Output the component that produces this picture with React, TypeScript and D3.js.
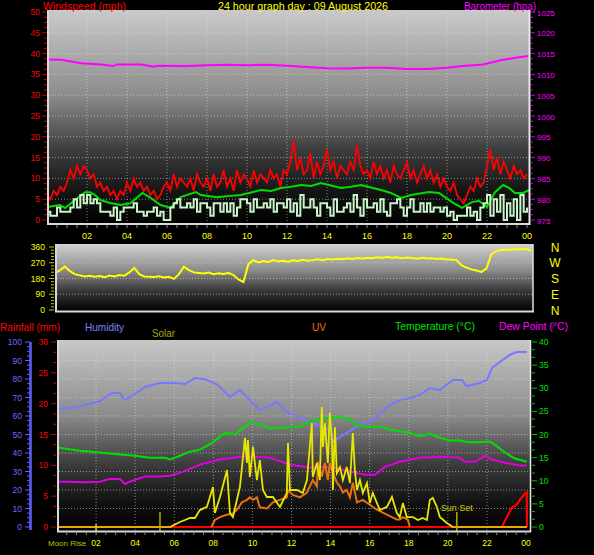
import React from "react";
import * as d3 from "d3";

// ---------- labels / ticks ----------
const hourLabels = ["02", "04", "06", "08", "10", "12", "14", "16", "18", "20", "22", "00"];
const hourLabelHours = [2, 4, 6, 8, 10, 12, 14, 16, 18, 20, 22, 24];
const windTicks = [0, 5, 10, 15, 20, 25, 30, 35, 40, 45, 50];
const baroTicks = [975, 980, 985, 990, 995, 1000, 1005, 1010, 1015, 1020, 1025];
const dirTicks = [0, 90, 180, 270, 360];
const compassLabels = ["N", "W", "S", "E", "N"];
const compassDegrees = [360, 270, 180, 90, 0];
const humidityTicks = [0, 10, 20, 30, 40, 50, 60, 70, 80, 90, 100];
const rainTicks = [0, 5, 10, 15, 20, 25, 30];
const tempTicks = [0, 5, 10, 15, 20, 25, 30, 35, 40];

// ---------- data ----------
// wind gust (mph), 10-minute samples from 00:00
const windGust = [
  6, 5, 7, 6, 8, 7,
  9, 12, 10, 13, 11, 13,
  12, 10, 11, 8, 9, 7,
  8, 6, 7, 5, 7, 6,
  9, 7, 10, 8, 9, 7,
  8, 6, 7, 5, 6, 8,
  9, 7, 11, 8, 10, 9,
  8, 10, 7, 11, 9, 8,
  10, 7, 11, 8, 9, 12,
  8, 10, 7, 12, 9, 11,
  10, 8, 12, 9, 11, 10,
  9, 12, 10, 11, 8, 12,
  11, 14, 19, 12, 15, 11,
  12, 16, 10, 14, 11, 13,
  17, 12, 14, 10, 13, 12,
  11, 14, 12, 18, 13, 11,
  12, 10, 14, 11, 13, 10,
  12, 9, 13, 11, 10, 12,
  14, 10, 12, 9, 11, 13,
  10, 12, 9, 11, 8, 10,
  8, 7, 9, 6, 5, 4,
  6, 8, 7, 10, 8, 9,
  13, 17, 12, 15, 11, 14,
  12, 10, 13, 11, 12, 10,
  11,
];
// wind speed (mph), 10-minute samples
const windSpeed = [
  2, 1, 1, 3, 2, 2,
  2, 3, 5, 3, 6, 4,
  6, 4, 5, 4, 2, 2,
  2, 1, 3, 0, 2, 3,
  3, 3, 4, 2, 2, 1,
  2, 2, 3, 1, 2, 0,
  0, 3, 4, 5, 3, 3,
  4, 3, 5, 2, 4, 4,
  3, 1, 4, 4, 2, 4,
  2, 4, 1, 3, 5, 5,
  4, 2, 5, 3, 3, 4,
  3, 5, 2, 4, 4, 3,
  5, 2, 4, 1, 6, 3,
  3, 5, 3, 1, 4, 4,
  3, 1, 5, 2, 2, 3,
  4, 2, 6, 3, 1, 5,
  3, 3, 4, 2, 5, 2,
  1, 4, 4, 5, 3, 1,
  3, 5, 2, 2, 4, 2,
  4, 2, 3, 3, 2, 3,
  1, 2, 0, 1, 1, 1,
  3, 1, 2, 0, 3, 4,
  6, 1, 5, 2, 6, 0,
  4, 1, 5, 0, 6, 2,
  3,
];
// average wind speed [hour, mph]
const windAvg: [number, number][] = [
  [0, 3.1], [0.65, 3.6], [0.9, 2.9], [1.4, 4.8], [1.9, 6.7], [2.16, 6.7], [2.4, 6], [2.66, 4.8],
  [3.17, 4.1], [3.67, 3.6], [4.17, 4], [4.77, 6.5], [5.18, 5.3], [5.68, 3.6], [6.18, 2.9],
  [6.68, 5.5], [7.44, 6.7], [7.69, 6], [8.5, 5.5], [9.2, 5.8], [9.7, 6], [10.2, 6.6], [10.7, 7.2],
  [11.2, 7.0], [11.7, 7.7], [12.2, 8.0], [12.7, 8.4], [13.2, 8.2], [13.7, 8.9], [14.2, 8.3],
  [14.7, 7.7], [15.2, 8.0], [15.7, 8.4], [16.2, 7.8], [16.7, 7.2], [17.2, 6.5], [17.7, 5.3],
  [18.2, 6], [19.1, 6.7], [19.6, 6.5], [20.25, 4.3], [20.75, 2.9], [21.25, 4.3], [21.6, 4.6],
  [22, 3.1], [22.4, 6.7], [22.8, 8.4], [23.1, 7.7], [23.4, 6.5], [23.8, 6.5], [24.1, 7.2],
];
// barometer [hour, hPa]
const barometer: [number, number][] = [
  [0, 1013.6], [0.7, 1013.5], [1.2, 1013.1], [1.7, 1012.7], [2.7, 1012.4], [3.3, 1012.0],
  [3.5, 1012.4], [4.7, 1012.4], [5.3, 1011.9], [5.6, 1012.1], [7, 1012.0], [8, 1012.2],
  [9, 1012.3], [10, 1012.2], [11, 1012.3], [12, 1012.1], [13, 1011.8], [14, 1011.5],
  [15, 1011.4], [16, 1011.6], [17, 1011.6], [18, 1011.3], [19, 1011.3], [20, 1011.6],
  [20.8, 1012.0], [21.8, 1012.4], [22.8, 1013.5], [23.6, 1014.1], [24.1, 1014.4],
];
// wind direction (degrees), 15-minute samples
const windDir = [
  210, 228, 248, 222,
  205, 198, 192, 196,
  190, 194, 188, 197,
  192, 200, 196, 215,
  240, 205, 192, 190,
  188, 193, 186, 190,
  178, 205, 248, 228,
  215, 212, 208, 214,
  205, 210, 206, 212,
  200, 175, 160, 262,
  285, 272, 280, 275,
  285, 278, 282, 276,
  284, 280, 287, 282,
  285, 290, 284, 292,
  288, 293, 290, 296,
  292, 297, 294, 299,
  296, 301, 298, 303,
  298, 302, 296, 300,
  297, 293, 298, 294,
  295, 291, 294, 289,
  288, 285, 255, 242,
  232, 226, 218, 236,
  318, 338, 343, 345,
  345, 348, 346, 350,
  340,
];
// humidity [hour, %]
const humidity: [number, number][] = [
  [0, 63.8], [0.66, 64.3], [1.43, 65.9], [2.2, 68.1], [2.81, 72.4], [3.22, 72.4], [3.48, 68.6],
  [3.99, 71.9], [4.5, 75.7], [5.27, 77.8], [6.04, 77.8], [6.55, 77.3], [7.06, 80.5], [7.6, 79.8],
  [8.2, 77], [8.85, 70.3], [9.36, 74], [10.38, 63.2], [11.25, 67.6], [11.76, 62.2], [12.94, 56.8],
  [13.96, 52.4], [14.12, 45.9], [14.63, 49.7], [15.65, 56.2], [16.16, 57.8], [16.88, 64.9],
  [17.54, 68.6], [18.06, 69.7], [18.57, 71.4], [19.08, 75.1], [19.59, 74], [20.26, 79.5],
  [20.72, 79.5], [20.97, 76.2], [21.48, 77.3], [22.0, 79.5], [22.25, 85.9], [22.66, 89.2],
  [23.17, 93], [23.53, 94.6], [24.05, 94.6],
];
// temperature [hour, °C]
const temperature: [number, number][] = [
  [0, 17.2], [1.18, 16.5], [2.2, 16.1], [3.22, 15.7], [3.99, 15.4], [4.76, 15.0], [5.52, 15.0],
  [5.78, 14.6], [6.29, 15.4], [6.8, 16.3], [7.31, 16.7], [7.98, 18.3], [8.59, 20.4], [9.1, 20.0],
  [9.62, 21.7], [9.87, 22.8], [10.38, 22.2], [10.9, 21.3], [11.66, 21.5], [12.43, 21.7],
  [12.94, 22.8], [13.45, 23.3], [13.96, 23.7], [14.48, 23.7], [14.99, 23.3], [15.24, 22.2],
  [15.75, 21.7], [16.52, 21.7], [17.03, 21.1], [17.54, 20.7], [18.06, 20.4], [18.57, 19.6],
  [19.08, 20.2], [19.59, 19.3], [20.1, 18.7], [20.61, 18.7], [21.13, 18.3], [21.64, 18.3],
  [22.15, 18.5], [22.4, 17.8], [22.92, 16.1], [23.43, 14.8], [24.04, 14.1],
];
// dew point [hour, °C]
const dewPoint: [number, number][] = [
  [0, 9.8], [0.66, 9.8], [1.43, 9.7], [2.2, 9.8], [2.71, 10.4], [3.22, 10.4], [3.48, 9.3],
  [3.73, 9.8], [4.5, 10.9], [5.27, 10.9], [5.78, 11.1], [6.29, 11.7], [7.06, 13.0], [7.31, 13.5],
  [8.34, 14.6], [9.36, 15.2], [10.13, 15.2], [10.9, 15.0], [11.92, 13.5], [12.94, 12.8],
  [13.96, 13.0], [14.99, 12.0], [15.75, 11.3], [16.27, 11.3], [16.78, 13.0], [17.54, 14.1],
  [18.57, 15.0], [19.59, 15.2], [20.61, 15.0], [20.87, 14.1], [21.38, 14.1], [21.89, 15.4],
  [22.25, 14.6], [22.92, 13.9], [23.68, 13.3], [24.04, 13.3],
];
// solar radiation [hour, W/m²]
const solar: [number, number][] = [
  [0, 0], [5.78, 0], [6.29, 27], [6.55, 38], [6.8, 49], [7.06, 49], [7.31, 92], [7.67, 109],
  [7.98, 217], [8.08, 76], [8.34, 163], [8.7, 310], [8.85, 76], [9.0, 54], [9.36, 217],
  [9.62, 484], [9.72, 348], [9.77, 473], [9.87, 272], [10.03, 435], [10.23, 255], [10.38, 364],
  [10.54, 201], [10.74, 163], [11.05, 163], [11.41, 109], [11.76, 185], [11.82, 457],
  [11.92, 201], [12.28, 201], [12.58, 185], [12.79, 255], [13.04, 565], [13.09, 272],
  [13.3, 348], [13.45, 255], [13.55, 652], [13.61, 435], [13.71, 565], [13.86, 348],
  [13.96, 620], [14.07, 473], [14.12, 201], [14.22, 543], [14.32, 293], [14.48, 326],
  [14.63, 255], [14.83, 326], [14.99, 239], [15.14, 511], [15.24, 310], [15.35, 201],
  [15.5, 255], [15.65, 185], [15.86, 239], [16.01, 130], [16.16, 185], [16.52, 92],
  [16.88, 109], [17.14, 163], [17.39, 76], [17.54, 54], [17.7, 130], [17.9, 54], [18.21, 54],
  [18.47, 38], [18.72, 49], [18.93, 38], [19.08, 147], [19.23, 158], [19.44, 109], [19.59, 54],
  [19.95, 22], [20.26, 0], [24.05, 0],
];
// UV index [hour, index]
const uvIndex: [number, number][] = [
  [7.9, 0], [8.08, 0.57], [8.34, 0.8], [8.7, 1.0], [9.0, 1.1], [9.21, 1.4], [9.46, 2.0],
  [9.72, 2.2], [9.87, 2.4], [10.03, 2.2], [10.23, 2.4], [10.38, 1.6], [10.74, 1.5], [11.05, 2.0],
  [11.41, 2.2], [11.76, 2.4], [11.82, 3.0], [12.07, 2.6], [12.43, 2.4], [12.79, 2.8], [13.09, 3.8],
  [13.3, 3.3], [13.35, 5.3], [13.55, 4.1], [13.71, 5.2], [13.86, 3.8], [13.96, 5.2], [14.12, 4.4],
  [14.32, 3.6], [14.48, 3.3], [14.63, 2.8], [14.83, 3.0], [14.99, 2.4], [15.14, 3.6], [15.35, 2.0],
  [15.65, 2.2], [16.01, 1.8], [16.37, 1.4], [16.88, 1.0], [17.39, 0.6], [17.54, 0.6], [17.7, 0.8],
  [17.95, 0.6], [18.06, 0],
];
// rainfall [hour, mm]
const rainfall: [number, number][] = [
  [0, 0], [22.76, 0], [23.02, 1.6], [23.27, 3.1], [23.53, 3.6], [23.68, 4.4], [23.94, 5.4],
  [24.04, 5.6], [24.05, 0],
];
const sunRise = 5.27;
const sunSet = 20.46;
const moonRise = 2.0;

const FONT = "Liberation Sans, Arial, Helvetica, sans-serif";

export default function App() {
  // scales
  const xTop = d3.scaleLinear().domain([0, 24]).range([47, 527]);
  const yWind = d3.scaleLinear().domain([0, 50]).range([220, 12]);
  const yBaro = d3.scaleLinear().domain([975, 1025]).range([220, 12]);

  const xMid = d3.scaleLinear().domain([0, 24]).range([55, 531]);
  const yDir = d3.scaleLinear().domain([0, 360]).range([310, 247]);

  const xBot = d3.scaleLinear().domain([0, 24]).range([57, 526]);
  const yHum = d3.scaleLinear().domain([0, 100]).range([527, 342]);
  const yRain = d3.scaleLinear().domain([0, 30]).range([527, 342]);
  const yTemp = d3.scaleLinear().domain([0, 40]).range([527, 342]);
  const ySolar = d3.scaleLinear().domain([0, 1000]).range([527, 343]);
  const yUV = d3.scaleLinear().domain([0, 15]).range([527, 342]);

  const pairLine = (xs: any, ys: any, curve: any = d3.curveLinear) =>
    d3.line<[number, number]>().x((d) => xs(d[0])).y((d) => ys(d[1])).curve(curve);

  const gustPath = d3.line<number>().x((_, i) => xTop(i / 6)).y((d) => yWind(d))(windGust) || "";
  const speedPath =
    d3.line<number>().x((_, i) => xTop(i / 6)).y((d) => yWind(d)).curve(d3.curveStepAfter)(windSpeed) || "";
  const avgPath = pairLine(xTop, yWind)(windAvg) || "";
  const baroPath = pairLine(xTop, yBaro)(barometer) || "";
  const dirPath = d3.line<number>().x((_, i) => xMid(i / 4)).y((d) => yDir(d))(windDir) || "";

  const humPath = pairLine(xBot, yHum)(humidity) || "";
  const tempPath = pairLine(xBot, yTemp)(temperature) || "";
  const dewPath = pairLine(xBot, yTemp)(dewPoint) || "";
  const solarPath = pairLine(xBot, ySolar)(solar) || "";
  const solarZeroPath =
    d3
      .line<[number, number]>()
      .defined((d) => d[1] === 0)
      .x((d) => xBot(d[0]))
      .y((d) => ySolar(d[1]))(solar) || "";
  const uvPath = pairLine(xBot, yUV)(uvIndex) || "";
  const rainPath = pairLine(xBot, yRain)(rainfall) || "";

  const gridStroke = "rgba(225,225,225,0.55)";
  const twoHours = d3.range(2, 24, 2);
  const halfHours = d3.range(0.5, 24.01, 0.5);

  const hdr = (txt: string, x: number, y: number, w: number, color: string, size = 11) => (
    <text x={x} y={y} fill={color} fontSize={size} textLength={w} lengthAdjust="spacingAndGlyphs">
      {txt}
    </text>
  );

  return (
    <svg
      width={594}
      height={555}
      style={{ position: "absolute", left: 0, top: 0, display: "block" }}
      fontFamily={FONT}
    >
      <defs>
        <linearGradient id="gTop" x1="0" y1="0" x2="0" y2="1">
          <stop offset="0" stopColor="#cacaca" />
          <stop offset="0.4" stopColor="#8c8c8c" />
          <stop offset="0.65" stopColor="#3e3e3e" />
          <stop offset="0.85" stopColor="#141414" />
          <stop offset="1" stopColor="#000000" />
        </linearGradient>
        <linearGradient id="gMid" x1="0" y1="0" x2="0" y2="1">
          <stop offset="0" stopColor="#d2d2d2" />
          <stop offset="0.4" stopColor="#8a8a8a" />
          <stop offset="0.7" stopColor="#383838" />
          <stop offset="1" stopColor="#000000" />
        </linearGradient>
        <linearGradient id="gBot" x1="0" y1="0" x2="0" y2="1">
          <stop offset="0" stopColor="#c8c8c8" />
          <stop offset="0.4" stopColor="#8a8a8a" />
          <stop offset="0.65" stopColor="#3c3c3c" />
          <stop offset="0.85" stopColor="#121212" />
          <stop offset="1" stopColor="#000000" />
        </linearGradient>
        <clipPath id="cTop">
          <rect x={49} y={10} width={480} height={214} />
        </clipPath>
        <clipPath id="cMid">
          <rect x={57} y={244} width={476} height={67} />
        </clipPath>
        <clipPath id="cBot">
          <rect x={59} y={340} width={471} height={191} />
        </clipPath>
      </defs>

      <rect x={0} y={0} width={594} height={555} fill="#000" />

      {/* ================= TOP PANEL ================= */}
      <rect x={48} y={10} width={481} height={214} fill="url(#gTop)" />
      {windTicks.slice(1, -1).map((t) => (
        <line key={"tg" + t} x1={49} x2={529} y1={yWind(t)} y2={yWind(t)} stroke={gridStroke} strokeDasharray="1 2" />
      ))}
      {twoHours.map((h) => (
        <line key={"tv" + h} x1={xTop(h)} x2={xTop(h)} y1={10} y2={224} stroke={gridStroke} strokeDasharray="1 2" />
      ))}
      <g clipPath="url(#cTop)" fill="none">
        <path d={baroPath} stroke="#ff00ff" strokeWidth={2} />
        <path d={gustPath} stroke="#ff0000" strokeWidth={1.8} />
        <path d={avgPath} stroke="#00dd00" strokeWidth={2} />
        <path d={speedPath} stroke="#c8f4c8" strokeWidth={2} />
      </g>
      <line x1={48} x2={48} y1={10} y2={225} stroke="#d8d8d8" strokeWidth={2} />
      <line x1={47} x2={530} y1={224} y2={224} stroke="#d8d8d8" strokeWidth={2} />
      <line x1={529.5} x2={529.5} y1={10} y2={225} stroke="#e8e8e8" strokeWidth={2} />
      {/* left wind axis */}
      {d3.range(0, 50.01, 1.25).map((t) => (
        <line
          key={"wt" + t}
          x1={t % 5 === 0 ? 42 : 44}
          x2={47}
          y1={yWind(t)}
          y2={yWind(t)}
          stroke="#cc0000"
          strokeWidth={1}
        />
      ))}
      {windTicks.map((t) => (
        <text key={"wl" + t} x={40} y={yWind(t) + 3} fill="#ff0000" fontSize={8.5} textAnchor="end">
          {t}
        </text>
      ))}
      {/* right barometer axis */}
      {d3.range(975, 1025.01, 1.25).map((t) => (
        <line
          key={"bt" + t}
          x1={531}
          x2={(t - 975) % 5 === 0 ? 535 : 533}
          y1={yBaro(t)}
          y2={yBaro(t)}
          stroke="#cc00cc"
          strokeWidth={1}
        />
      ))}
      {baroTicks.map((t) => (
        <text key={"bl" + t} x={537} y={yBaro(t) + 3.5} fill="#ff00ff" fontSize={8}>
          {t}
        </text>
      ))}
      {/* time axis */}
      {halfHours.map((h) => (
        <line key={"tt" + h} x1={xTop(h)} x2={xTop(h)} y1={225} y2={228} stroke="#888" />
      ))}
      {hourLabels.map((l, i) => (
        <text key={"tl" + i} x={xTop(hourLabelHours[i])} y={238.5} fill="#ffff00" fontSize={9} textAnchor="middle">
          {l}
        </text>
      ))}
      {hdr("Windspeed (mph)", 43, 9.5, 83, "#ff0000", 10.5)}
      {hdr("24 hour graph day : 09 August 2026", 218, 9.5, 170, "#ffff00", 10.5)}
      {hdr("Barometer (hpa)", 464, 9.5, 72, "#ff00ff", 10)}

      {/* ================= MIDDLE PANEL ================= */}
      <rect x={55} y={244} width={478} height={67} fill="url(#gMid)" />
      {[90, 180, 270].map((t) => (
        <line key={"dg" + t} x1={57} x2={533} y1={yDir(t)} y2={yDir(t)} stroke={gridStroke} strokeDasharray="1 2" />
      ))}
      <g clipPath="url(#cMid)" fill="none">
        <path d={dirPath} stroke="#ffff00" strokeWidth={2} />
      </g>
      <line x1={56} x2={56} y1={244} y2={312} stroke="#d8d8d8" strokeWidth={2} />
      <line x1={55} x2={534} y1={311.5} y2={311.5} stroke="#d8d8d8" strokeWidth={2} />
      <line x1={533} x2={533} y1={244} y2={312} stroke="#e0e0e0" strokeWidth={1.5} />
      {d3.range(0, 360.01, 18).map((t) => (
        <line
          key={"dt" + t}
          x1={t % 90 === 0 ? 49 : 51}
          x2={54}
          y1={yDir(t)}
          y2={yDir(t)}
          stroke="#c8c800"
        />
      ))}
      {dirTicks.map((t) => (
        <text key={"dl" + t} x={45} y={yDir(t) + 3} fill="#ffff00" fontSize={8.5} textAnchor="end">
          {t}
        </text>
      ))}
      {compassLabels.map((c, i) => (
        <text key={"cl" + i} x={555} y={yDir(compassDegrees[i]) + 4.5} fill="#ffff00" fontSize={12} textAnchor="middle">
          {c}
        </text>
      ))}

      {/* ================= BOTTOM PANEL ================= */}
      {hdr("Rainfall (mm)", 0, 331, 60, "#ff0000")}
      {hdr("Humidity", 85, 331, 39, "#8080ff")}
      {hdr("Solar", 152, 337, 23, "#a8a800")}
      {hdr("UV", 312, 331, 14, "#ff6a00")}
      {hdr("Temperature (°C)", 395, 330, 80, "#00e000")}
      {hdr("Dew Point (°C)", 499, 330, 69, "#ff00ff")}

      <rect x={57} y={340} width={473} height={191} fill="url(#gBot)" />
      {humidityTicks.slice(1, -1).map((t) => (
        <line key={"hg" + t} x1={59} x2={530} y1={yHum(t)} y2={yHum(t)} stroke={gridStroke} strokeDasharray="1 2" />
      ))}
      {twoHours.map((h) => (
        <line key={"bv" + h} x1={xBot(h)} x2={xBot(h)} y1={340} y2={531} stroke={gridStroke} strokeDasharray="1 2" />
      ))}
      <g clipPath="url(#cBot)" fill="none">
        <path d={humPath} stroke="#7878ff" strokeWidth={2} />
        <path d={tempPath} stroke="#00e000" strokeWidth={2} />
        <path d={dewPath} stroke="#e000e0" strokeWidth={2} />
        <path d={rainPath} stroke="#ff0000" strokeWidth={2.2} />
        <path d={uvPath} stroke="#e87010" strokeWidth={2} />
        <path d={solarPath} stroke="#e6e600" strokeWidth={1.8} />
        <path d={solarZeroPath} stroke="#f0a800" strokeWidth={2} />
      </g>
      {/* sun / moon markers */}
      <line x1={xBot(sunRise)} x2={xBot(sunRise)} y1={512} y2={532} stroke="#b0b000" strokeWidth={1.5} />
      <line x1={xBot(sunSet)} x2={xBot(sunSet)} y1={512} y2={531} stroke="#b0b000" strokeWidth={1.5} />
      <line x1={xBot(moonRise)} x2={xBot(moonRise)} y1={524} y2={531} stroke="#d8d800" strokeWidth={1.5} />
      <text x={xBot(sunSet) - 16} y={511} fill="#d0d000" fontSize={9}>
        Sun Set
      </text>
      <line x1={58} x2={58} y1={340} y2={532} stroke="#d8d8d8" strokeWidth={2} />
      <line x1={57} x2={531} y1={531.5} y2={531.5} stroke="#d8d8d8" strokeWidth={2} />
      <line x1={530.5} x2={530.5} y1={340} y2={532} stroke="#e8e8e8" strokeWidth={1.5} />
      {/* humidity axis */}
      <line x1={30.5} x2={30.5} y1={342} y2={530} stroke="#6060ff" strokeWidth={2.5} />
      {d3.range(0, 100.01, 2.5).map((t) => (
        <line key={"ht" + t} x1={t % 10 === 0 ? 25 : 27} x2={30} y1={yHum(t)} y2={yHum(t)} stroke="#6060ff" />
      ))}
      {humidityTicks.map((t) => (
        <text key={"hl" + t} x={22} y={yHum(t) + 3} fill="#6a6aff" fontSize={8.5} textAnchor="end">
          {t}
        </text>
      ))}
      {/* rainfall axis */}
      {d3.range(0, 30.01, 5 / 3).map((t, i) => (
        <line key={"rt" + i} x1={i % 3 === 0 ? 51 : 53} x2={56} y1={yRain(t)} y2={yRain(t)} stroke="#cc0000" />
      ))}
      {rainTicks.map((t) => (
        <text key={"rl" + t} x={48} y={yRain(t) + 3} fill="#ff0000" fontSize={8.5} textAnchor="end">
          {t}
        </text>
      ))}
      {/* temperature axis */}
      {d3.range(0, 40.01, 5 / 3).map((t, i) => (
        <line key={"ct" + i} x1={532} x2={i % 3 === 0 ? 537 : 535} y1={yTemp(t)} y2={yTemp(t)} stroke="#00c000" />
      ))}
      {tempTicks.map((t) => (
        <text key={"cl" + t} x={539} y={yTemp(t) + 3} fill="#00e000" fontSize={8.5}>
          {t}
        </text>
      ))}
      {/* bottom time axis */}
      {halfHours.map((h) => (
        <line key={"bt" + h} x1={xBot(h)} x2={xBot(h)} y1={532} y2={535} stroke="#888" />
      ))}
      {hourLabels.map((l, i) => (
        <text key={"bl" + i} x={xBot(hourLabelHours[i])} y={545.5} fill="#ffff00" fontSize={8.5} textAnchor="middle">
          {l}
        </text>
      ))}
      <text x={48} y={545.5} fill="#b4c400" fontSize={8}>
        Moon Rise
      </text>
    </svg>
  );
}
